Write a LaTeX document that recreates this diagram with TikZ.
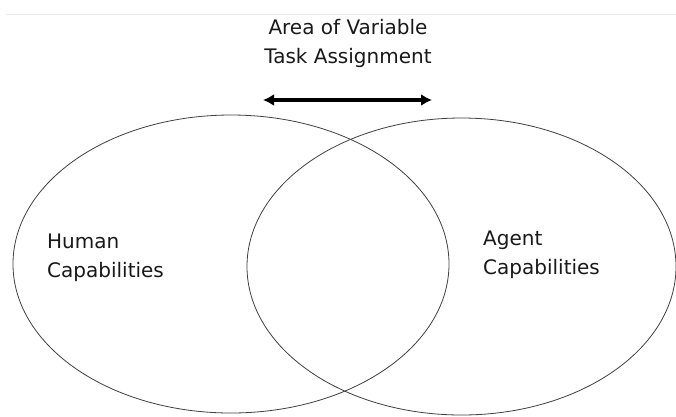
\documentclass[tikz,border=0pt]{standalone}
\usepackage{fontspec}
\setmainfont{DejaVu Sans}
\usetikzlibrary{arrows.meta,shapes.geometric}
\begin{document}
\begin{tikzpicture}[x=1pt,y=-1pt,
  setcircle/.style={draw=black!75, line width=0.8pt, ellipse, inner sep=0pt},
  lbl/.style={font=\fontsize{20}{29}\selectfont, inner sep=0pt, text=black!90},
  dblarrow/.style={{Latex[length=11pt,width=12pt]}-{Latex[length=11pt,width=12pt]}, line width=3.2pt}]
\useasboundingbox (0,0) rectangle (676,416);
\fill[white] (0,0) rectangle (676,416);
\draw[black!8, line width=0.6pt] (6,14) -- (676,14);
\node[setcircle, minimum width=436pt, minimum height=298pt] (human) at (231,264) {};
\node[setcircle, minimum width=429pt, minimum height=297pt] (agent) at (461.5,266.5) {};
\node[lbl, anchor=base west, align=left] (hl) at (47,277) {Human\\Capabilities};
\node[lbl, anchor=base west, align=left] (al) at (483,274) {Agent\\Capabilities};
\node[lbl, anchor=base, align=center] (title) at (348,63) {Area of Variable\\Task Assignment};
\coordinate (aL) at (263,100);
\coordinate (aR) at (432,100);
\draw[dblarrow] (aL) -- (aR);
\end{tikzpicture}
\end{document}
